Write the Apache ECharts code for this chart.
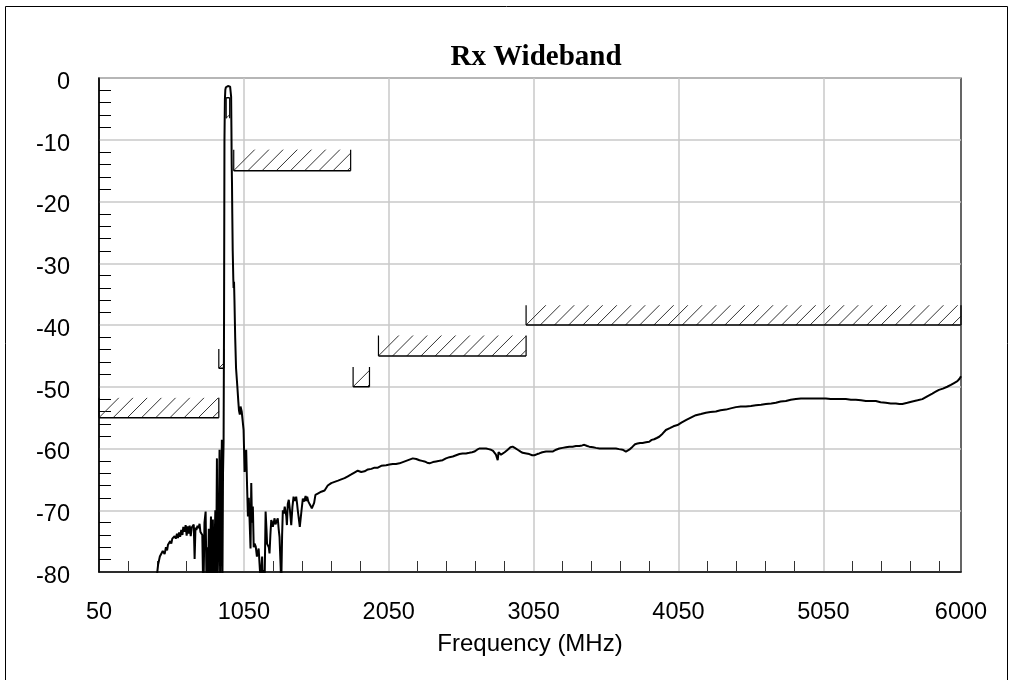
<!DOCTYPE html>
<html><head><meta charset="utf-8">
<script src="https://cdn.jsdelivr.net/npm/echarts@6/dist/echarts.min.js"></script>
<style>html,body{margin:0;padding:0;background:#fff;}#c{width:1014px;height:680px;}</style>
</head><body><div id="c"></div>
<script>
const FONT = '"Liberation Sans", Arial, sans-serif';
const titleText = 'Rx Wideband';
const xName = 'Frequency (MHz)';
const xLabels = [50, 1050, 2050, 3050, 4050, 5050, 6000];
const xGrid = [1050, 2050, 3050, 4050, 5050];
const xMinor = [250,450,650,850,1250,1450,1650,1850,2250,2450,2650,2850,3250,3450,3650,3850,4250,4450,4650,4850,5250,5450,5650,5850];
const yMin = -80, yMax = 0, yStep = 10;

// spectral mask segments: start MHz, end MHz, limit dB, hatch edge dB
const maskStart = [50, 877, 928, 980, 1804, 1979, 2998];
const maskEnd   = [877, 912, 952, 1787, 1917, 2998, 6000];
const maskLimit = [-55, -47, -3.2, -15, -50, -45, -40];
const maskHatch = [-51.8, -43.9, -6.5, -11.6, -46.8, -41.7, -36.8];

// measured response
const freqs = [450,458,464,470,480,490,503,512,520,526,535,542,549,556,565,572,580,588,595,603,610,618,626,632,641,648,655,662,668,676,683,690,698,704,710,716,722,730,737,744,750,756,763,768,772,778,786,792,797,802,808,813,818,823,827,832,836,842,848,853,858,864,868,873,877,882,886,889,894,898,902,906,910,913,916,919,922,926,932,940,948,955,959,962,964,966,968,970,973,977,979,982,985,990,996,1005,1012,1016,1022,1027,1035,1043,1048,1055,1060,1066,1072,1078,1084,1089,1096,1101,1106,1112,1118,1124,1132,1140,1147,1152,1158,1164,1170,1176,1181,1187,1193,1200,1206,1210,1216,1222,1227,1233,1239,1245,1250,1256,1262,1268,1273,1279,1284,1290,1296,1302,1308,1314,1319,1326,1332,1338,1343,1347,1353,1360,1368,1377,1385,1393,1402,1411,1417,1422,1430,1436,1448,1457,1466,1476,1482,1487,1495,1503,1511,1519,1526,1535,1544,1552,1560,1572,1584,1595,1607,1618,1629,1641,1653,1665,1676,1687,1700,1710,1722,1733,1745,1756,1768,1779,1791,1802,1813,1825,1836,1848,1860,1871,1883,1894,1906,1917,1930,1940,1952,1963,1975,1986,1998,2010,2032,2055,2078,2100,2124,2147,2170,2193,2216,2240,2262,2280,2297,2315,2331,2355,2377,2400,2422,2445,2469,2492,2515,2538,2560,2583,2606,2625,2641,2660,2675,2700,2722,2740,2756,2770,2779,2790,2802,2808,2813,2825,2836,2850,2871,2890,2905,2920,2940,2960,2974,3000,3020,3040,3055,3075,3089,3110,3136,3160,3181,3205,3227,3250,3273,3296,3319,3342,3365,3385,3400,3420,3434,3460,3480,3505,3526,3550,3572,3595,3618,3640,3664,3687,3710,3733,3750,3767,3785,3802,3825,3848,3865,3882,3900,3917,3940,3963,3990,4015,4043,4070,4101,4135,4170,4205,4239,4270,4308,4340,4377,4410,4446,4480,4515,4550,4584,4620,4653,4690,4722,4755,4791,4825,4860,4895,4929,4965,4998,5030,5067,5100,5136,5170,5205,5240,5274,5310,5343,5380,5412,5445,5481,5515,5550,5575,5595,5630,5664,5700,5733,5770,5802,5825,5848,5875,5905,5930,5952,5975,5990,6000];
const levels = [-80.5,-78.8,-78.6,-77.5,-77.4,-76.6,-77.1,-76.0,-76.5,-75.6,-75.9,-75.0,-75.4,-74.6,-74.9,-74.2,-74.6,-73.8,-74.5,-73.6,-74.3,-73.2,-74.0,-72.7,-73.5,-72.4,-74.1,-72.6,-73.8,-72.5,-74.2,-72.8,-73.0,-72.3,-77.9,-72.8,-73.2,-72.5,-72.9,-72.2,-73.5,-73.8,-74.0,-81,-82,-72,-70.2,-82,-76,-82,-73,-82,-75.5,-71.0,-82,-74,-71.5,-82,-82,-70,-82,-61.6,-82,-82,-72,-60.2,-82,-82,-66,-58.6,-82,-64,-59,-40,-10,-3.5,-1.9,-1.5,-1.3,-1.3,-1.3,-1.4,-1.7,-3,-8,-14,-17,-22,-28,-32.5,-34,-33,-36,-42,-47,-50,-52.5,-53.8,-54.5,-53.2,-54.0,-54.3,-57,-63.8,-61.5,-60.2,-66,-71,-68,-71.3,-76.2,-65.6,-72,-69.4,-76,-75.4,-75.9,-77.5,-77.5,-76.2,-78.6,-81,-80,-77.5,-82,-79.7,-82,-70.2,-73,-75.4,-75.4,-76,-77,-74,-71.6,-72,-72.7,-72.5,-71.3,-72.3,-72.1,-72,-71.3,-73,-74.3,-78,-82,-74,-70,-70.5,-69.4,-69.1,-71,-72.4,-69,-68.3,-70,-72.4,-69.5,-67.8,-68.5,-67.8,-68.9,-70,-71.5,-72.7,-70,-68.1,-68.6,-67.7,-68.5,-67.8,-68.6,-68.6,-69.3,-69.7,-70.0,-68.8,-67.5,-67.8,-67.3,-67.3,-67.0,-67.2,-66.8,-66.5,-66.0,-65.8,-65.6,-65.7,-65.4,-65.5,-65.2,-65.3,-65.0,-65.0,-64.8,-64.8,-64.5,-64.6,-64.2,-64.0,-63.9,-64.0,-63.6,-63.6,-63.8,-63.5,-63.7,-63.6,-63.4,-63.6,-63.3,-63.5,-63.1,-63.0,-63.1,-62.9,-62.8,-62.9,-62.7,-62.6,-62.5,-62.5,-62.4,-62.2,-62.0,-61.8,-61.6,-61.7,-61.9,-62.0,-62.1,-62.3,-62.4,-62.2,-62.1,-62.0,-61.9,-61.6,-61.4,-61.3,-61.1,-60.9,-60.8,-60.8,-60.7,-60.6,-60.5,-60.2,-60.0,-60.0,-60.0,-60.1,-60.2,-60.4,-60.5,-61.0,-61.9,-60.6,-60.5,-61.0,-61.2,-60.6,-60.2,-59.8,-59.7,-59.9,-60.2,-60.5,-60.7,-60.8,-60.9,-61.1,-61.1,-60.9,-60.8,-60.6,-60.5,-60.5,-60.5,-60.2,-60.0,-59.9,-59.8,-59.7,-59.7,-59.6,-59.6,-59.5,-59.4,-59.6,-59.7,-59.8,-59.9,-60.0,-60.0,-60.0,-60.0,-60.0,-60.0,-60.1,-60.2,-60.5,-60.2,-59.7,-59.3,-59.2,-59.1,-59.1,-59.0,-58.9,-58.6,-58.5,-58.3,-58.1,-57.6,-57.0,-56.7,-56.4,-56.2,-55.8,-55.4,-55.0,-54.6,-54.4,-54.2,-54.1,-54.0,-53.8,-53.7,-53.5,-53.3,-53.2,-53.2,-53.1,-53.0,-52.9,-52.8,-52.7,-52.6,-52.4,-52.3,-52.1,-52.0,-51.9,-51.9,-51.9,-51.9,-51.9,-51.9,-52.0,-52.0,-52.0,-52.0,-52.1,-52.1,-52.2,-52.3,-52.3,-52.3,-52.5,-52.6,-52.7,-52.7,-52.8,-52.8,-52.6,-52.4,-52.2,-52.0,-51.5,-51.1,-50.8,-50.5,-50.3,-50.0,-49.7,-49.4,-49.1,-48.7,-48.3];

const curveData = freqs.map((f, i) => [f, levels[i]]);
const maskData = maskStart.map((s, i) => [s, maskEnd[i], maskLimit[i], maskHatch[i]]);

function renderMask(params, api) {
  const a = api.coord([api.value(0), api.value(2)]);
  const b = api.coord([api.value(1), api.value(3)]);
  const x0 = a[0], x1 = b[0], yLim = a[1], yHat = b[1];
  const top = Math.min(yLim, yHat), bot = Math.max(yLim, yHat), h = bot - top;
  const ch = [];
  const hs = {stroke: '#333', lineWidth: 1};
  for (let s = x0; s < x1 - 0.5; s += 14.2) {
    let ex = s + h, ey = top;
    if (ex > x1) { ey = bot - (x1 - s); ex = x1; }
    ch.push({type: 'line', shape: {x1: s, y1: bot, x2: ex, y2: ey}, style: hs});
  }
  ch.push({type: 'line', shape: {x1: x0, y1: yLim, x2: x1, y2: yLim}, style: {stroke: '#000', lineWidth: 1.5}});
  ch.push({type: 'line', shape: {x1: x0, y1: top, x2: x0, y2: bot}, style: {stroke: '#000', lineWidth: 1.2}});
  ch.push({type: 'line', shape: {x1: x1, y1: top, x2: x1, y2: bot}, style: {stroke: '#000', lineWidth: 1.2}});
  return {type: 'group', children: ch};
}

const chart = echarts.init(document.getElementById('c'), null, {renderer: 'canvas'});
chart.setOption({
  animation: false,
  backgroundColor: '#fff',
  graphic: [{type: 'rect', shape: {x: 5.5, y: 6.5, width: 1002, height: 690}, style: {fill: 'none', stroke: '#000', lineWidth: 1}, silent: true}],
  title: {text: titleText, left: 531, textAlign: 'center', top: 38,
    textStyle: {fontFamily: '"Liberation Serif", "Times New Roman", serif', fontWeight: 'bold', fontSize: 29, color: '#000'}},
  grid: {left: 99, right: 53, top: 78, bottom: 108, show: true, borderColor: '#000', borderWidth: 1.2, backgroundColor: 'transparent'},
  xAxis: [{
    type: 'value', min: 50, max: 6000, position: 'bottom',
    axisLine: {show: true, onZero: false, lineStyle: {color: '#000', width: 1.5}},
    axisTick: {show: false, customValues: xGrid},
    axisLabel: {customValues: xLabels, fontSize: 23.5, color: '#000', fontFamily: FONT, margin: 29,
      formatter: function (v) { return String(v); }},
    splitLine: {show: true, lineStyle: {color: '#c8c8c8', width: 1.5}},
    name: xName, nameLocation: 'middle', nameGap: 60,
    nameTextStyle: {fontSize: 24, color: '#000', fontFamily: FONT}
  }, {
    type: 'value', min: 50, max: 6000, position: 'bottom', offset: 0,
    axisLine: {show: false, onZero: false},
    axisTick: {show: true, inside: true, length: 11, customValues: xMinor, lineStyle: {color: '#333', width: 1}},
    axisLabel: {show: false},
    splitLine: {show: false}
  }],
  yAxis: {
    type: 'value', min: yMin, max: yMax, interval: yStep,
    axisLine: {show: true, onZero: false, lineStyle: {color: '#000', width: 1.5}},
    axisTick: {show: false, inside: true},
    minorTick: {show: true, splitNumber: 5, length: 12, lineStyle: {color: '#000', width: 1}},
    axisLabel: {color: '#000', margin: 29,
      formatter: function (v) { return '{t|' + v + '}'; },
      rich: {t: {fontSize: 23.5, color: '#000', fontFamily: FONT, padding: [9, 0, 0, 0]}}},
    splitLine: {show: true, lineStyle: {color: '#c8c8c8', width: 1.5}}
  },
  series: [{
    type: 'custom', coordinateSystem: 'cartesian2d', xAxisIndex: 0, yAxisIndex: 0,
    renderItem: renderMask, encode: {x: [0, 1], y: [2, 3]}, data: maskData, z: 2, silent: true
  }, {
    type: 'line', xAxisIndex: 0, yAxisIndex: 0, data: curveData, showSymbol: false, symbol: 'none',
    clip: true, lineStyle: {color: '#000', width: 2}, z: 3, silent: true
  }]
});
</script></body></html>
